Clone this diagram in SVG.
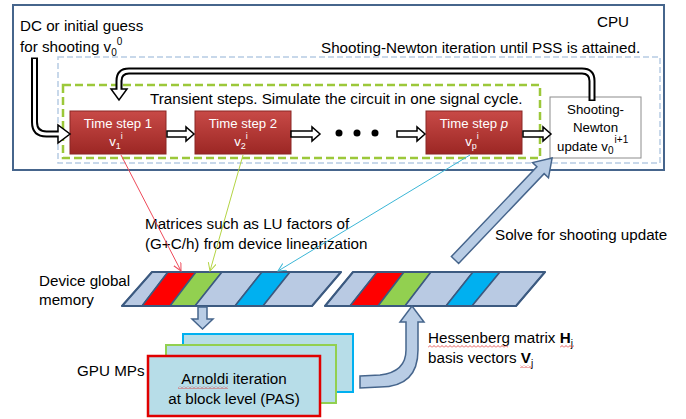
<svg xmlns="http://www.w3.org/2000/svg" width="686" height="419" viewBox="0 0 686 419">
<style>
text{font-family:"Liberation Sans",Arial,sans-serif;fill:#000;}
.t{font-size:15.2px;}
.w{font-size:13.2px;fill:#fff;}
.s{font-size:13.3px;}
.band{stroke:#3c5a80;stroke-width:1.5;stroke-linejoin:round;}
.lb{fill:#b9cae3;}
.rd{fill:#ff0000;}
.gn{fill:#92d050;}
.bl{fill:#00b0f0;}
.ts{fill:url(#redg);stroke:#8a2624;stroke-width:1;}
.outA{fill:none;stroke:#000;stroke-width:7;}
.inA{fill:none;stroke:#fff;stroke-width:3;}
.hd{fill:#fff;stroke:#000;stroke-width:1.5;stroke-linejoin:miter;}
.blk{fill:#b9cde5;stroke:#46658c;stroke-width:1.5;stroke-linejoin:miter;}
.gpu{fill:#b7dde8;}
.sq{fill:url(#squig);}
</style>
<defs>
<linearGradient id="redg" x1="0" y1="0" x2="0" y2="1">
<stop offset="0" stop-color="#c84a47"/>
<stop offset="1" stop-color="#9c2724"/>
</linearGradient>
<pattern id="squig" width="4" height="3" patternUnits="userSpaceOnUse">
<path d="M0,2.5 L2,0.5 L4,2.5" fill="none" stroke="#e03030" stroke-width="0.8"/>
</pattern>
<marker id="mr" markerWidth="10" markerHeight="10" refX="8" refY="4" orient="auto" markerUnits="userSpaceOnUse">
<path d="M0,0 L8,4 L0,8" fill="none" stroke="#ee4a5a" stroke-width="1"/>
</marker>
<marker id="mg" markerWidth="10" markerHeight="10" refX="8" refY="4" orient="auto" markerUnits="userSpaceOnUse">
<path d="M0,0 L8,4 L0,8" fill="none" stroke="#b4d444" stroke-width="1"/>
</marker>
<marker id="mc" markerWidth="10" markerHeight="10" refX="8" refY="4" orient="auto" markerUnits="userSpaceOnUse">
<path d="M0,0 L8,4 L0,8" fill="none" stroke="#3bb6d6" stroke-width="1"/>
</marker>
</defs>
<rect width="686" height="419" fill="#fff"/>

<g id="cpu">
<rect x="13" y="5" width="651" height="165" fill="none" stroke="#46658c" stroke-width="2"/>
<text class="t" x="597" y="27">CPU</text>
</g>

<g id="init-label">
<text class="t" x="20" y="31">DC or initial guess</text>
<text class="t" x="20" y="52">for shooting v<tspan dy="4" font-size="10">0</tspan><tspan dy="-11" font-size="10">0</tspan></text>
</g>

<g id="shooting-loop">
<rect x="58" y="57" width="602" height="106" fill="none" stroke="#b7cbe3" stroke-width="1.5" stroke-dasharray="6 3"/>
<text class="t" x="321" y="53">Shooting-Newton iteration until PSS is attained.</text>
</g>

<g id="transient">
<rect x="63" y="85" width="477" height="73" fill="none" stroke="#9cc83a" stroke-width="2.5" stroke-dasharray="8 4"/>
<text class="t" x="150" y="104">Transient steps. Simulate the circuit in one signal cycle.</text>
</g>

<g id="ts1">
<rect class="ts" x="70" y="111" width="96" height="43"/>
<text class="w" x="118" y="128" text-anchor="middle">Time step 1</text>
<text class="w" x="116" y="146" text-anchor="middle">v<tspan dy="3" font-size="9">1</tspan><tspan dy="-10" font-size="9">i</tspan></text>
</g>

<g id="ts2">
<rect class="ts" x="195" y="111" width="96" height="43"/>
<text class="w" x="243" y="128" text-anchor="middle">Time step 2</text>
<text class="w" x="241" y="146" text-anchor="middle">v<tspan dy="3" font-size="9">2</tspan><tspan dy="-10" font-size="9">i</tspan></text>
</g>

<g id="dots">
<circle cx="339" cy="133" r="3.5"/>
<circle cx="357" cy="133" r="3.5"/>
<circle cx="375" cy="133" r="3.5"/>
</g>

<g id="tsp">
<rect class="ts" x="426" y="111" width="96" height="43"/>
<text class="w" x="474" y="128" text-anchor="middle">Time step <tspan font-style="italic">p</tspan></text>
<text class="w" x="472" y="146" text-anchor="middle">v<tspan dy="3" font-size="9">p</tspan><tspan dy="-10" font-size="9">i</tspan></text>
</g>

<g id="newton">
<rect x="550" y="97" width="91" height="61" fill="#fff" stroke="#8c8c8c" stroke-width="1"/>
<text class="s" x="595.5" y="114" text-anchor="middle">Shooting-</text>
<text class="s" x="595.5" y="132" text-anchor="middle">Newton</text>
<text class="s" x="557" y="151">update v<tspan dy="3" font-size="10">0</tspan><tspan dy="-11" font-size="10" dx="1">i+1</tspan></text>
</g>

<g id="mem1">
<polygon class="band lb" points="152,272 168,272 142,306 122,306"/>
<polygon class="band rd" points="168,272 196,272 170,306 142,306"/>
<polygon class="band gn" points="196,272 222,272 195,306 170,306"/>
<polygon class="band lb" points="222,272 262,272 235,306 195,306"/>
<polygon class="band bl" points="262,272 290,272 263,306 235,306"/>
<polygon class="band lb" points="290,272 341,272 312,306 263,306"/>
<polygon points="152,272 341,272 312,306 122,306" fill="none" stroke="#3c5a80" stroke-width="2" stroke-linejoin="round"/>
<text class="t" x="39" y="286">Device global</text>
<text class="t" x="39" y="305">memory</text>
</g>

<g id="mem2">
<polygon class="band lb" points="353,272 377,272 350,306 325,306"/>
<polygon class="band rd" points="377,272 404,272 378,306 350,306"/>
<polygon class="band gn" points="404,272 431,272 405,306 378,306"/>
<polygon class="band lb" points="431,272 473,272 446,306 405,306"/>
<polygon class="band bl" points="473,272 500,272 472,306 446,306"/>
<polygon class="band lb" points="500,272 545,272 516,306 472,306"/>
<polygon points="353,272 545,272 516,306 325,306" fill="none" stroke="#3c5a80" stroke-width="2" stroke-linejoin="round"/>
</g>

<g id="gpu">
<rect class="gpu" x="183" y="334" width="170" height="58" stroke="#00b0f0" stroke-width="2"/>
<rect class="gpu" x="166" y="345" width="170" height="58" stroke="#92d050" stroke-width="2"/>
<rect class="gpu" x="148" y="356" width="172" height="60" stroke="#e00000" stroke-width="2.5"/>
<text class="t" x="77" y="376">GPU MPs</text>
<text class="t" x="234" y="384" text-anchor="middle">Arnoldi iteration</text>
<text class="t" x="234" y="404" text-anchor="middle">at block level (PAS)</text>
<rect class="sq" x="178" y="386" width="50" height="3"/>
</g>

<g id="labels">
<text class="t" x="145" y="229">Matrices such as LU factors of</text>
<text class="t" x="145" y="249">(G+C/h) from device linearization</text>
<text class="t" x="495" y="240">Solve for shooting update</text>
<text class="t" x="428" y="343">Hessenberg matrix <tspan font-weight="bold">H</tspan><tspan dy="4" font-size="10">j</tspan></text>
<text class="t" x="428" y="363">basis vectors <tspan font-weight="bold">V</tspan><tspan dy="4" font-size="10">j</tspan></text>
<rect class="sq" x="428" y="345" width="80" height="3"/>
<rect class="sq" x="560" y="345" width="14" height="3"/>
<rect class="sq" x="520" y="365" width="12" height="3"/>
</g>

<g id="connectors">
<path class="outA" d="M592,101 L592,81 Q592,71 582,71 L129,71 Q119,71 119,81 L119,89"/>
<polygon class="hd" points="111,89 127,89 119,100"/>
<path class="inA" d="M592,99.5 L592,81 Q592,71 582,71 L129,71 Q119,71 119,81 L119,90.5"/>
<path class="outA" d="M34.5,57.5 L34.5,122 Q34.5,134 46.5,134 L59,134"/>
<polygon class="hd" points="58,125 58,143 70,134"/>
<path class="inA" d="M34.5,59 L34.5,122 Q34.5,134 46.5,134 L59.5,134"/>
<polygon class="hd" points="167,131 186,131 186,127 194,134 186,141 186,137 167,137"/>
<polygon class="hd" points="291,131 312,131 312,127 320,134 312,141 312,137 291,137"/>
<polygon class="hd" points="397,131 417,131 417,127 425,134 417,141 417,137 397,137"/>
<polygon class="hd" points="523,131 543,131 543,127 551,134 543,141 543,137 523,137"/>
<line x1="121" y1="155" x2="181" y2="271" stroke="#ee4a5a" stroke-width="1" marker-end="url(#mr)"/>
<line x1="243" y1="155" x2="210" y2="271" stroke="#b4d444" stroke-width="1" marker-end="url(#mg)"/>
<line x1="470" y1="155" x2="278" y2="271" stroke="#3bb6d6" stroke-width="1" marker-end="url(#mc)"/>
<polygon class="blk" points="198,307 207,307 207,319 213,319 202.5,329 192,319 198,319"/>
<path class="blk" d="M360,376 L380,375 Q406,372 406,350 L406,322 L400,322 L412,306 L424,322 L418,322 L418,350 Q418,387 380,387 L360,388 Z"/>
<path class="blk" transform="translate(455,260) rotate(-46.4)" d="M0,-5 L124,-5 L124,-11 L140.8,0 L124,11 L124,5 L0,5 Z"/>
</g>
</svg>
